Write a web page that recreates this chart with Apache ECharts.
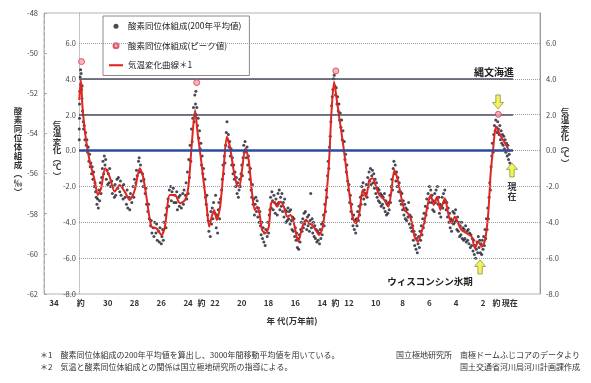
<!DOCTYPE html>
<html><head><meta charset="utf-8">
<script src="https://cdn.jsdelivr.net/npm/echarts@6/dist/echarts.min.js"></script>
<style>html,body{margin:0;padding:0;background:#fff}#c{width:591px;height:383px}</style>
</head><body><div id="c"></div>
<script>
// ---- data (x: 万年前, y: 気温変化 ℃) ----
const xTickValues = [34,32,30,28,26,24,23,22,20,18,16,14,13,12,10,8,6,4,2,1,0];
const xTickTexts  = ['34','約','30','28','26','24','約','22','20','18','16','14','約','12','10','8','6','4','2','約','現在'];
const refLines = [4,2,0];
const gridLevels = [6,4,2,0,-2,-4,-6];
const curve = [[32.12,2.82],[32.0,3.94],[31.88,2.45],[31.68,0.96],[31.36,-0.53],[30.98,-1.64],[30.73,-2.48],[30.49,-2.1],[30.19,-0.99],[29.86,-1.46],[29.48,-2.29],[29.11,-1.92],[28.73,-2.29],[28.36,-2.76],[27.98,-2.2],[27.61,-0.99],[27.36,-1.46],[27.11,-2.57],[26.74,-4.25],[26.36,-4.34],[25.99,-4.71],[25.73,-4.25],[25.36,-2.48],[24.98,-2.48],[24.61,-2.94],[24.23,-2.76],[23.98,-2.02],[23.74,0.21],[23.48,2.26],[23.29,0.96],[23.03,-0.53],[22.86,-1.64],[22.61,-3.13],[22.43,-4.25],[22.24,-3.69],[22.06,-3.32],[21.86,-3.87],[21.61,-3.13],[21.36,-1.08],[21.11,0.77],[20.86,0.13],[20.61,-1.08],[20.36,-1.92],[20.18,-2.02],[19.98,-1.08],[19.73,0.13],[19.48,-0.53],[19.23,-2.38],[19.03,-3.32],[18.86,-3.13],[18.68,-3.5],[18.48,-4.43],[18.23,-4.61],[17.98,-4.25],[17.81,-2.94],[17.61,-2.85],[17.36,-3.13],[17.11,-2.85],[16.86,-3.13],[16.61,-3.69],[16.36,-3.6],[16.11,-4.06],[15.78,-5.08],[15.48,-4.25],[15.23,-3.87],[14.98,-4.06],[14.73,-4.15],[14.48,-4.43],[14.23,-4.71],[13.98,-4.34],[13.73,-2.94],[13.48,-0.53],[13.31,2.08],[13.11,3.84],[12.91,2.82],[12.66,1.52],[12.41,0.21],[12.16,-1.27],[11.91,-2.76],[11.73,-3.69],[11.48,-4.06],[11.23,-3.5],[10.98,-2.2],[10.73,-2.57],[10.48,-1.64],[10.23,-1.55],[9.98,-2.02],[9.73,-2.48],[9.36,-2.76],[9.06,-3.13],[8.86,-2.38],[8.61,-1.08],[8.36,-1.64],[8.11,-2.57],[7.86,-3.32],[7.61,-3.5],[7.36,-3.87],[7.11,-4.8],[6.86,-5.08],[6.61,-4.61],[6.35,-3.87],[6.1,-2.94],[5.9,-2.48],[5.68,-3.04],[5.43,-2.57],[5.18,-3.32],[4.85,-2.66],[4.6,-3.5],[4.35,-4.06],[4.1,-3.69],[3.86,-4.06],[3.6,-4.43],[3.23,-4.61],[2.85,-4.8],[2.6,-5.45],[2.36,-5.08],[2.1,-5.36],[1.85,-5.0],[1.61,-3.5],[1.43,-1.27],[1.23,0.21],[1.03,1.33],[0.73,0.87],[0.35,0.4],[0.03,-0.06]];
const peaks = [[31.95,4.96],[23.36,3.79],[12.98,4.44],[0.86,2.02]];
const arrowPts = [[0.88,2.71,180],[-0.16,-1.08,0],[2.22,-6.49,0]];
const dots = [[32.12,0.6],[32.12,1.2],[32.1,1.8],[32.1,2.6],[32.08,3.3],[32.05,4.1],[32.02,4.5],[32.0,3.7],[31.98,4.3],[31.95,3.4],[31.92,2.9],[31.9,3.6],[31.88,2.2],[31.85,2.0],[31.82,1.6],[31.8,1.2],[31.75,1.4],[31.7,0.6],[31.65,1.0],[31.6,0.3],[31.55,0.6],[31.5,-0.1],[31.45,0.2],[31.4,-0.6],[31.35,-0.2],[31.3,-0.9],[31.25,-0.7],[31.2,-1.3],[31.15,-0.9],[31.1,-1.6],[31.05,-1.2],[31.0,-2.0],[30.95,-1.8],[30.9,-2.3],[30.85,-2.6],[30.8,-3.0],[30.75,-2.7],[30.7,-3.2],[30.65,-2.2],[30.6,-2.8],[30.55,-1.8],[30.5,-2.4],[30.45,-1.5],[30.4,-1.0],[30.35,-0.6],[30.3,-1.3],[30.25,-0.3],[30.2,-0.8],[30.15,-0.5],[30.1,-1.6],[30.05,-1.1],[30.0,-1.9],[29.95,-1.3],[29.9,-1.8],[29.85,-1.0],[29.8,-2.0],[29.7,-1.7],[29.65,-2.4],[29.6,-2.0],[29.5,-2.6],[29.45,-1.9],[29.4,-2.5],[29.3,-1.6],[29.25,-2.1],[29.2,-1.5],[29.1,-2.3],[29.05,-1.7],[29.0,-2.5],[28.9,-2.0],[28.85,-2.7],[28.8,-1.9],[28.7,-2.6],[28.6,-3.0],[28.55,-2.2],[28.5,-3.2],[28.4,-2.6],[28.35,-3.3],[28.3,-2.4],[28.2,-2.9],[28.1,-2.0],[28.05,-2.6],[28.0,-1.6],[27.9,-1.8],[27.85,-1.1],[27.8,-1.4],[27.7,-0.6],[27.65,-0.4],[27.6,-1.2],[27.55,-0.8],[27.5,-1.7],[27.4,-1.3],[27.35,-2.0],[27.3,-1.6],[27.2,-2.4],[27.15,-2.1],[27.1,-3.0],[27.0,-3.4],[26.95,-3.0],[26.9,-3.8],[26.8,-4.2],[26.75,-3.9],[26.7,-4.6],[26.6,-4.3],[26.55,-4.8],[26.5,-4.0],[26.4,-4.6],[26.35,-4.1],[26.3,-5.0],[26.2,-4.5],[26.15,-5.1],[26.1,-4.3],[26.0,-5.2],[25.95,-4.8],[25.9,-4.4],[25.85,-5.0],[25.8,-4.0],[25.7,-3.6],[25.65,-4.3],[25.6,-3.2],[25.5,-2.7],[25.45,-3.1],[25.4,-2.2],[25.3,-2.0],[25.25,-2.8],[25.2,-2.3],[25.1,-2.1],[25.05,-2.9],[25.0,-2.5],[24.9,-2.9],[24.85,-2.3],[24.8,-3.3],[24.7,-2.6],[24.65,-3.1],[24.6,-2.5],[24.5,-3.2],[24.4,-2.4],[24.35,-3.0],[24.3,-2.2],[24.2,-2.5],[24.15,-1.8],[24.1,-2.7],[24.05,-1.2],[24.0,-2.4],[23.95,-0.5],[23.9,-1.5],[23.85,0.3],[23.8,-0.6],[23.75,1.2],[23.7,0.5],[23.65,1.8],[23.6,2.4],[23.55,1.6],[23.5,3.1],[23.45,2.6],[23.42,3.3],[23.4,2.0],[23.35,2.4],[23.3,1.4],[23.25,1.8],[23.2,0.7],[23.15,1.1],[23.1,0.1],[23.05,0.4],[23.0,-0.8],[22.95,-0.3],[22.9,-1.3],[22.85,-1.0],[22.8,-2.0],[22.75,-1.6],[22.7,-2.6],[22.65,-3.0],[22.6,-2.5],[22.55,-3.6],[22.5,-3.9],[22.45,-4.5],[22.4,-4.0],[22.35,-4.8],[22.3,-3.4],[22.25,-4.1],[22.2,-3.2],[22.15,-3.8],[22.1,-2.9],[22.0,-3.5],[21.95,-2.5],[21.9,-4.3],[21.85,-3.6],[21.8,-4.6],[21.75,-3.3],[21.7,-2.9],[21.65,-3.8],[21.6,-2.7],[21.5,-2.2],[21.45,-1.6],[21.4,-0.8],[21.35,-1.3],[21.3,-0.3],[21.25,-0.7],[21.2,0.3],[21.15,1.0],[21.1,1.6],[21.05,0.6],[21.0,0.9],[20.95,0.2],[20.9,0.5],[20.85,-0.3],[20.8,0.1],[20.75,-0.8],[20.7,-0.4],[20.65,-1.3],[20.6,-0.8],[20.55,-1.6],[20.5,-1.2],[20.45,-2.0],[20.4,-1.5],[20.35,-2.4],[20.3,-1.8],[20.25,-2.6],[20.2,-2.2],[20.15,-1.6],[20.1,-2.0],[20.05,-1.3],[20.0,-0.8],[19.95,-1.4],[19.9,-0.4],[19.85,0.3],[19.8,-0.1],[19.75,0.5],[19.7,0.0],[19.65,-0.4],[19.6,0.2],[19.55,-0.8],[19.5,-0.3],[19.45,-1.2],[19.4,-1.6],[19.35,-1.0],[19.3,-2.2],[19.25,-2.6],[19.2,-1.9],[19.15,-3.0],[19.1,-2.7],[19.05,-3.6],[19.0,-3.0],[18.95,-2.6],[18.9,-3.4],[18.85,-2.8],[18.8,-3.7],[18.75,-3.2],[18.7,-4.0],[18.65,-3.4],[18.6,-4.2],[18.55,-4.7],[18.5,-4.0],[18.45,-4.9],[18.4,-4.3],[18.35,-5.1],[18.3,-4.6],[18.25,-5.3],[18.2,-4.4],[18.1,-4.8],[18.05,-4.0],[18.0,-4.6],[17.95,-3.6],[17.9,-3.3],[17.85,-2.6],[17.8,-3.2],[17.75,-2.3],[17.7,-2.8],[17.65,-3.3],[17.6,-2.5],[17.55,-2.9],[17.5,-3.5],[17.45,-2.7],[17.4,-3.0],[17.35,-3.6],[17.3,-2.4],[17.25,-2.9],[17.2,-2.2],[17.15,-3.3],[17.1,-2.6],[17.05,-3.1],[17.0,-2.4],[16.95,-3.4],[16.9,-2.9],[16.85,-3.7],[16.8,-2.7],[16.75,-3.3],[16.7,-4.0],[16.65,-3.4],[16.6,-3.9],[16.55,-3.2],[16.5,-3.8],[16.45,-3.4],[16.4,-4.1],[16.35,-3.3],[16.3,-3.9],[16.25,-4.4],[16.2,-3.7],[16.15,-4.5],[16.1,-3.8],[16.05,-4.8],[16.0,-4.3],[15.95,-5.0],[15.9,-4.6],[15.85,-5.4],[15.8,-4.9],[15.75,-5.5],[15.7,-4.7],[15.65,-5.1],[15.6,-4.4],[15.55,-4.0],[15.5,-4.5],[15.45,-3.8],[15.4,-4.3],[15.35,-3.5],[15.3,-4.1],[15.25,-3.4],[15.2,-3.9],[15.15,-4.4],[15.1,-3.7],[15.05,-4.2],[15.0,-3.6],[14.95,-4.5],[14.9,-3.9],[14.85,-2.4],[14.8,-4.3],[14.75,-3.8],[14.7,-4.6],[14.65,-4.0],[14.6,-4.8],[14.55,-4.2],[14.5,-4.9],[14.45,-4.4],[14.4,-5.1],[14.35,-4.5],[14.3,-5.0],[14.25,-4.6],[14.2,-5.2],[14.15,-4.4],[14.1,-4.9],[14.05,-4.1],[14.0,-4.7],[13.95,-4.0],[13.9,-3.6],[13.85,-4.2],[13.8,-3.0],[13.75,-3.4],[13.7,-2.2],[13.65,-2.6],[13.6,-1.4],[13.55,-0.6],[13.5,-1.0],[13.45,0.2],[13.4,0.8],[13.35,1.6],[13.3,2.5],[13.25,3.0],[13.2,3.4],[13.15,4.0],[13.1,4.2],[13.05,3.6],[13.0,3.1],[12.95,3.5],[12.9,2.6],[12.85,3.0],[12.8,2.2],[12.75,2.6],[12.7,1.7],[12.65,2.1],[12.6,1.3],[12.55,1.7],[12.5,0.6],[12.45,1.1],[12.4,0.0],[12.35,0.5],[12.3,-0.5],[12.25,-0.2],[12.2,-1.2],[12.15,-0.8],[12.1,-1.7],[12.05,-2.2],[12.0,-1.9],[11.95,-2.9],[11.9,-2.5],[11.85,-3.4],[11.8,-3.0],[11.75,-3.8],[11.7,-4.2],[11.65,-3.6],[11.6,-4.4],[11.55,-3.9],[11.5,-4.6],[11.45,-3.8],[11.4,-4.2],[11.35,-3.4],[11.3,-3.9],[11.25,-3.1],[11.2,-3.6],[11.15,-2.6],[11.1,-3.0],[11.05,-2.0],[11.0,-2.5],[10.95,-1.8],[10.9,-2.7],[10.85,-2.2],[10.8,-3.0],[10.75,-2.4],[10.7,-1.9],[10.65,-2.6],[10.6,-1.5],[10.55,-2.0],[10.5,-1.2],[10.45,-1.7],[10.4,-1.0],[10.35,-1.9],[10.3,-1.4],[10.25,-1.1],[10.2,-1.8],[10.15,-1.3],[10.1,-2.1],[10.05,-1.6],[10.0,-2.4],[9.95,-1.8],[9.9,-2.6],[9.85,-2.1],[9.8,-2.8],[9.75,-2.2],[9.7,-2.9],[9.65,-2.4],[9.6,-3.1],[9.55,-2.5],[9.5,-3.0],[9.45,-2.6],[9.4,-3.2],[9.35,-2.4],[9.3,-3.4],[9.25,-2.8],[9.2,-3.6],[9.15,-3.0],[9.1,-3.5],[9.05,-2.9],[9.0,-3.3],[8.95,-2.5],[8.9,-2.9],[8.85,-2.0],[8.8,-1.6],[8.75,-2.2],[8.7,-1.0],[8.65,-0.6],[8.6,-1.3],[8.55,-0.8],[8.5,-1.7],[8.45,-1.2],[8.4,-2.0],[8.35,-1.5],[8.3,-2.3],[8.25,-1.8],[8.2,-2.8],[8.15,-2.3],[8.1,-3.0],[8.05,-2.4],[8.0,-3.3],[7.95,-2.8],[7.9,-3.6],[7.85,-3.0],[7.8,-3.8],[7.75,-3.2],[7.7,-3.9],[7.65,-3.3],[7.6,-3.7],[7.55,-2.9],[7.5,-4.1],[7.45,-3.6],[7.4,-4.3],[7.35,-3.7],[7.3,-4.5],[7.25,-4.2],[7.2,-5.0],[7.15,-4.5],[7.1,-5.3],[7.05,-4.7],[7.0,-5.5],[6.95,-4.9],[6.9,-5.7],[6.85,-5.2],[6.8,-4.8],[6.75,-5.4],[6.7,-4.5],[6.65,-5.0],[6.6,-4.2],[6.55,-4.7],[6.5,-3.8],[6.45,-4.3],[6.4,-3.5],[6.35,-4.0],[6.3,-3.1],[6.25,-3.6],[6.2,-2.7],[6.15,-3.2],[6.1,-2.4],[6.05,-2.9],[6.0,-2.0],[5.95,-2.6],[5.9,-2.2],[5.85,-2.9],[5.8,-2.5],[5.75,-3.3],[5.7,-2.8],[5.65,-3.4],[5.6,-2.4],[5.55,-2.9],[5.5,-2.2],[5.45,-2.7],[5.4,-2.0],[5.35,-3.0],[5.3,-2.6],[5.25,-3.5],[5.2,-3.0],[5.15,-3.7],[5.1,-3.1],[5.05,-2.6],[5.0,-3.2],[4.95,-2.4],[4.9,-2.9],[4.85,-2.2],[4.8,-2.8],[4.75,-3.3],[4.7,-2.9],[4.65,-3.7],[4.6,-3.2],[4.55,-4.0],[4.5,-3.5],[4.45,-4.3],[4.4,-3.8],[4.35,-4.5],[4.3,-3.9],[4.25,-3.4],[4.2,-4.1],[4.15,-3.5],[4.1,-4.0],[4.05,-3.3],[4.0,-3.9],[3.95,-4.4],[3.9,-3.7],[3.85,-4.5],[3.8,-4.0],[3.75,-4.8],[3.7,-4.2],[3.65,-4.7],[3.6,-4.0],[3.55,-4.9],[3.5,-4.3],[3.45,-5.0],[3.4,-4.4],[3.35,-4.9],[3.3,-4.2],[3.25,-5.1],[3.2,-4.5],[3.15,-5.0],[3.1,-4.4],[3.05,-5.2],[3.0,-4.6],[2.95,-5.4],[2.9,-4.7],[2.85,-5.3],[2.8,-4.9],[2.75,-5.6],[2.7,-5.0],[2.65,-5.8],[2.6,-5.3],[2.55,-6.0],[2.5,-5.5],[2.45,-5.1],[2.4,-5.7],[2.35,-4.8],[2.3,-5.4],[2.25,-5.0],[2.2,-5.7],[2.15,-5.2],[2.1,-5.8],[2.05,-5.0],[2.0,-5.5],[1.95,-4.8],[1.9,-5.3],[1.85,-4.4],[1.8,-4.9],[1.75,-3.8],[1.7,-4.4],[1.65,-3.2],[1.6,-3.8],[1.55,-2.6],[1.5,-1.8],[1.45,-2.2],[1.4,-0.9],[1.35,-0.3],[1.3,0.4],[1.25,-0.1],[1.2,0.9],[1.15,1.4],[1.1,1.1],[1.05,1.7],[1.0,1.3],[0.95,1.0],[0.9,1.6],[0.85,1.2],[0.8,0.9],[0.75,1.4],[0.7,0.6],[0.65,1.1],[0.6,0.4],[0.55,0.9],[0.5,0.3],[0.45,0.8],[0.4,0.1],[0.35,0.6],[0.3,-0.1],[0.25,0.4],[0.2,-0.3],[0.15,0.3],[0.1,-0.5],[0.05,-0.2],[0.0,-0.7]];

// ---- layout constants ----
const FONT = '"Noto Sans CJK JP","Noto Sans CJK SC",sans-serif';
const innerAxisX = 32.14;   // x value where the inner temperature axis sits
const refEndX = -0.24;
const axisMinX = -2.25;

function fmtT(v){ return Math.abs(v/2 - Math.round(v/2)) < 1e-6 ? v.toFixed(1) : ''; }
function fmtX(v){ const i = xTickValues.findIndex(t => Math.abs(t - v) < 1e-6); return i < 0 ? '' : xTickTexts[i]; }

const markData = [];
gridLevels.forEach(v => markData.push([{coord:[innerAxisX, v], lineStyle:{color:'#9a9a9a', width:1, type:'dotted'}}, {coord:[axisMinX, v]}]));
refLines.forEach(v => markData.push([{coord:[innerAxisX, v], lineStyle: v === 0 ? {color:'#2c4b9e', width:2.6, type:'solid'} : {color:'#4d4d62', width:1.6, type:'solid'}}, {coord:[refEndX, v]}]));

const chart = echarts.init(document.getElementById('c'), null, {renderer:'canvas'});
chart.setOption({
  animation:false,
  backgroundColor:'#ffffff',
  textStyle:{fontFamily:FONT},
  grid:{left:44, right:51, top:13, bottom:89, show:true, borderColor:'#b4b4b4', borderWidth:1, outerBoundsMode:'none'},
  legend:{
    left:103, top:16, orient:'vertical',
    data:[
      {name:'酸素同位体組成(200年平均値)'},
      {name:'酸素同位体組成(ピーク値)'},
      {name:'気温変化曲線＊1', icon:'path://M0,0L20,0L20,3L0,3Z'}
    ],
    backgroundColor:'#fff', borderColor:'#8a8a8a', borderWidth:1,
    padding:[6,8,6,6], itemGap:11, itemWidth:14, itemHeight:5,
    textStyle:{fontSize:8.5, color:'#222', fontFamily:FONT}
  },
  xAxis:{
    type:'value', inverse:true, min:axisMinX, max:34.75, interval:0.25,
    axisLine:{show:false, onZero:false}, axisTick:{show:false}, splitLine:{show:false},
    axisLabel:{margin:5, fontSize:8, fontWeight:'bold', color:'#333', formatter:fmtX, hideOverlap:false},
    name:'年 代(万年前)', nameLocation:'middle', nameGap:23,
    nameTextStyle:{fontSize:8.5, fontWeight:'bold', color:'#333'}
  },
  yAxis:[
    {type:'value', min:-62, max:-48, interval:2, position:'left',
     axisLine:{show:true, onZero:false, lineStyle:{color:'#aaaaaa', type:'dashed'}},
     axisTick:{show:true, inside:true, length:3, lineStyle:{color:'#aaa'}},
     splitLine:{show:false},
     axisLabel:{fontSize:7.5, color:'#444', margin:6}},
    {type:'value', min:-8, max:7.67, interval:2, position:'left', offset:-35,
     axisLine:{show:true, onZero:false, lineStyle:{color:'#b5b5b5', type:'dotted'}},
     axisTick:{show:false}, splitLine:{show:false},
     axisLabel:{fontSize:7.5, color:'#444', margin:3, formatter:fmtT, showMaxLabel:false}},
    {type:'value', min:-8, max:7.67, interval:2, position:'right',
     axisLine:{show:true, onZero:false, lineStyle:{color:'#999'}},
     axisTick:{show:false}, splitLine:{show:false},
     axisLabel:{fontSize:7.5, color:'#444', margin:6, formatter:fmtT, showMaxLabel:false}}
  ],
  series:[
    {type:'line', yAxisIndex:2, data:[], z:1, silent:true,
     markLine:{silent:true, symbol:['none','none'], label:{show:false}, animation:false, data:markData}},
    {name:'酸素同位体組成(200年平均値)', type:'scatter', yAxisIndex:2, data:dots, z:3,
     symbol:'circle', symbolSize:3, itemStyle:{color:'#1a1a2c'}, silent:true},
    {name:'気温変化曲線＊1', type:'line', yAxisIndex:2, data:curve, z:4,
     symbol:'none', showSymbol:false, smooth:0.25, lineStyle:{color:'#e1251f', width:2}, itemStyle:{color:'#e1251f'}, silent:true},
    {name:'酸素同位体組成(ピーク値)', type:'scatter', yAxisIndex:2, data:peaks, z:5,
     symbol:'circle', symbolSize:6, itemStyle:{color:'#f4a2aa', borderColor:'#d63a4a', borderWidth:1}, silent:true},
    {type:'scatter', yAxisIndex:2, z:6, silent:true,
     data:arrowPts.map(a => ({value:[a[0], a[1]], symbolRotate:a[2]})),
     symbol:'path://M5,0L10,6L7,6L7,13L3,13L3,6L0,6Z', symbolSize:[11,14],
     itemStyle:{color:'#eef03a', borderColor:'#77771f', borderWidth:0.8}}
  ],
  graphic:[
    {type:'text', x:18, y:151, style:{text:'酸\n素\n同\n位\n体\n組\n成\n︵\n‰\n︶', fontSize:8.5, fontWeight:'bold', lineHeight:9, fill:'#333', fontFamily:FONT, align:'center', verticalAlign:'middle'}},
    {type:'text', x:57, y:150, style:{text:'気\n温\n変\n化\n︵\n℃\n︶', fontSize:8.5, fontWeight:'bold', lineHeight:8.5, fill:'#333', fontFamily:FONT, align:'center', verticalAlign:'middle'}},
    {type:'text', x:565, y:137, style:{text:'気\n温\n変\n化\n︵\n℃\n︶', fontSize:8.5, fontWeight:'bold', lineHeight:8.5, fill:'#333', fontFamily:FONT, align:'center', verticalAlign:'middle'}},
    {type:'text', x:494, y:72, style:{text:'縄文海進', fontSize:10, fontWeight:'bold', fill:'#222', fontFamily:FONT, align:'center', verticalAlign:'middle'}},
    {type:'text', x:430, y:281, style:{text:'ウィスコンシン氷期', fontSize:9.5, fontWeight:'bold', fill:'#222', fontFamily:FONT, align:'center', verticalAlign:'middle'}},
    {type:'text', x:512, y:192, style:{text:'現\n在', fontSize:9, fontWeight:'bold', lineHeight:10, fill:'#333', fontFamily:FONT, align:'center', verticalAlign:'middle'}},
    {type:'text', x:40, y:355, style:{text:'＊1　酸素同位体組成の200年平均値を算出し、3000年間移動平均値を用いている。', fontSize:8, fill:'#333', fontFamily:FONT, align:'left', verticalAlign:'middle'}},
    {type:'text', x:40, y:367, style:{text:'＊2　気温と酸素同位体組成との関係は国立極地研究所の指導による。', fontSize:8, fill:'#333', fontFamily:FONT, align:'left', verticalAlign:'middle'}},
    {type:'text', x:580, y:355, style:{text:'国立極地研究所　南極ドームふじコアのデータより', fontSize:8, fill:'#333', fontFamily:FONT, align:'right', verticalAlign:'middle'}},
    {type:'text', x:580, y:367, style:{text:'国土交通省河川局河川計画課作成', fontSize:8, fill:'#333', fontFamily:FONT, align:'right', verticalAlign:'middle'}}
  ]
});
</script>
</body></html>
